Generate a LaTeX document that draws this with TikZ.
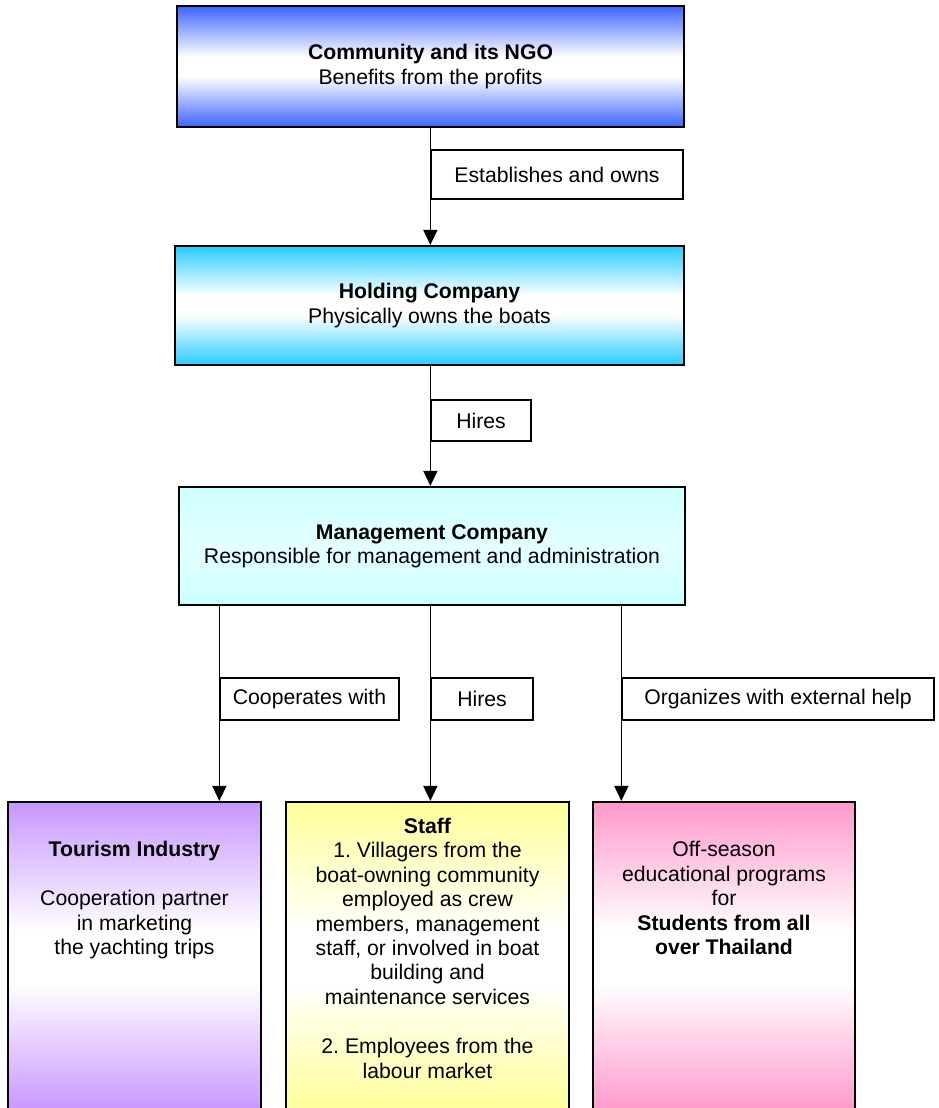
\documentclass[tikz,border=0pt]{standalone}
\usepackage{fontspec}
\setmainfont{Liberation Sans}
\usetikzlibrary{arrows.meta}
\frenchspacing
\definecolor{cblue}{RGB}{60,100,255}
\definecolor{ccyan}{RGB}{40,204,255}
\definecolor{clcyan}{RGB}{204,255,255}
\definecolor{clcyanm}{RGB}{228,255,255}
\definecolor{cpurple}{RGB}{200,150,255}
\definecolor{cyellow}{RGB}{255,255,153}
\definecolor{cpink}{RGB}{255,153,204}
\pgfdeclareverticalshading{shblue}{100bp}{color(0bp)=(cblue); color(25bp)=(cblue); color(46bp)=(white); color(54bp)=(white); color(75bp)=(cblue); color(100bp)=(cblue)}
\pgfdeclareverticalshading{shcyan}{100bp}{color(0bp)=(ccyan); color(25bp)=(ccyan); color(46bp)=(white); color(54bp)=(white); color(75bp)=(ccyan); color(100bp)=(ccyan)}
\pgfdeclareverticalshading{shlcyan}{100bp}{color(0bp)=(clcyan); color(25bp)=(clcyan); color(50bp)=(clcyanm); color(75bp)=(clcyan); color(100bp)=(clcyan)}
\pgfdeclareverticalshading{shpurple}{100bp}{color(0bp)=(cpurple); color(25bp)=(cpurple); color(46bp)=(white); color(54bp)=(white); color(75bp)=(cpurple); color(100bp)=(cpurple)}
\pgfdeclareverticalshading{shyellow}{100bp}{color(0bp)=(cyellow); color(25bp)=(cyellow); color(46bp)=(white); color(54bp)=(white); color(75bp)=(cyellow); color(100bp)=(cyellow)}
\pgfdeclareverticalshading{shpink}{100bp}{color(0bp)=(cpink); color(25bp)=(cpink); color(46bp)=(white); color(54bp)=(white); color(75bp)=(cpink); color(100bp)=(cpink)}
\pgfdeclarelayer{foreground}
\pgfsetlayers{main,foreground}
\begin{document}
\begin{tikzpicture}[x=1pt,y=-1pt,
  every node/.style={font=\fontsize{21.2}{24.4}\selectfont, inner sep=0pt, align=center},
  mainbox/.style={draw=black, line width=2.2pt, rectangle},
  labbox/.style={draw=black, line width=1.3pt, fill=white, rectangle},
  conn/.style={line width=1.5pt, -{Triangle[width=14pt,length=15pt]}},
  txt/.style={anchor=north}]
\useasboundingbox (0,0) rectangle (939,1108);
\clip (0,0) rectangle (939,1108);
\fill[white] (0,0) rectangle (939,1108);
% main boxes
\node[mainbox, shading=shblue, minimum width=507, minimum height=121] (ngo) at (430.5,66.5) {\textbf{Community and its NGO}\\Benefits from the profits};
\node[mainbox, shading=shcyan, minimum width=509, minimum height=119] (hold) at (429.5,305.5) {\textbf{Holding Company}\\Physically owns the boats};
\node[mainbox, shading=shlcyan, minimum width=506, minimum height=118] (mgmt) at (432,546) {\textbf{Management Company}\\Responsible for management and administration};
\node[mainbox, shading=shpurple, minimum width=253, minimum height=310] (tour) at (134.5,957) {};
\node[mainbox, shading=shyellow, minimum width=283, minimum height=310] (staff) at (427.5,957) {};
\node[mainbox, shading=shpink, minimum width=262, minimum height=310] (prog) at (724,957) {};
% texts of bottom boxes
\node[txt] (tourtxt) at ([yshift=-40pt]tour.north) {\textbf{Tourism Industry}\\[25pt]Cooperation partner\\in marketing\\the yachting trips};
\node[txt] (stafftxt) at ([yshift=-17pt]staff.north) {\textbf{Staff}\\1. Villagers from the\\boat-owning community\\employed as crew\\members, management\\staff, or involved in boat\\building and\\maintenance services\\[25pt]2. Employees from the\\labour market};
\node[txt] (progtxt) at ([yshift=-40.5pt]prog.north) {Off-season\\educational programs\\for\\\textbf{Students from all}\\\textbf{over Thailand}};
% label boxes
\begin{pgfonlayer}{foreground}
\node[labbox, minimum width=252, minimum height=49] (lab1) at (557,174.5) {Establishes and owns};
\node[labbox, minimum width=100, minimum height=41] (lab2) at (481,420.5) {Hires};
\node[labbox, minimum width=179, minimum height=42] (lab3) at (309.5,699) {Cooperates with};
\node[labbox, minimum width=102, minimum height=42] (lab4) at (482,699) {Hires};
\node[labbox, minimum width=312, minimum height=42] (lab5) at (778,699) {Organizes with external help};
\end{pgfonlayer}
% connectors
\draw[conn] (ngo.south -| lab1.west) -- (hold.north -| lab1.west);
\draw[conn] (hold.south -| lab2.west) -- (mgmt.north -| lab2.west);
\draw[conn] (mgmt.south -| lab3.west) -- (tour.north -| lab3.west);
\draw[conn] (mgmt.south -| lab4.west) -- (staff.north -| lab4.west);
\draw[conn] (mgmt.south -| lab5.west) -- (prog.north -| lab5.west);
\end{tikzpicture}
\end{document}
